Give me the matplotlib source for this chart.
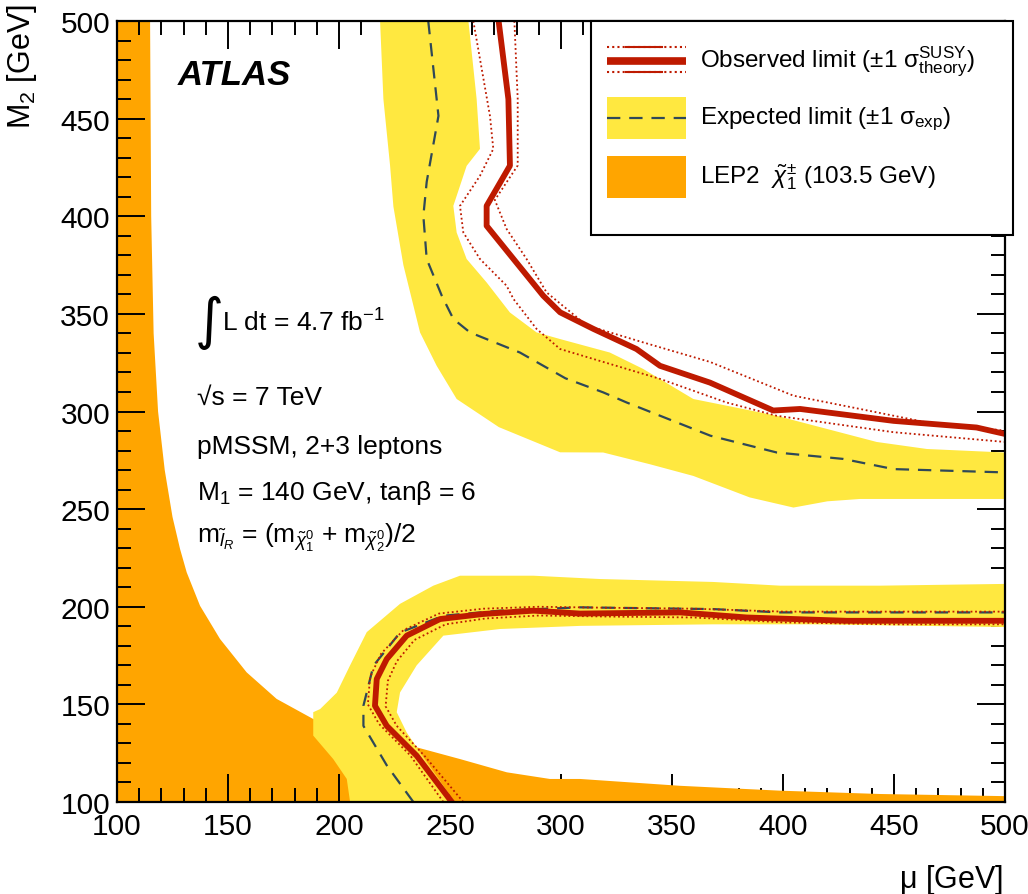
import numpy as np
import matplotlib
matplotlib.use("Agg")
import matplotlib.pyplot as plt
from matplotlib.patches import Rectangle
from matplotlib.ticker import MultipleLocator

plt.rcParams['font.family'] = ['Liberation Sans', 'DejaVu Sans']
plt.rcParams['mathtext.fontset'] = 'custom'
plt.rcParams['mathtext.rm'] = 'Liberation Sans'
plt.rcParams['mathtext.it'] = 'Liberation Sans:italic'
plt.rcParams['mathtext.bf'] = 'Liberation Sans:bold'
plt.rcParams['mathtext.sf'] = 'Liberation Sans'

# LEP2 chargino exclusion (left part and the strip along the bottom)
lep_left_mu = [100, 114.9, 115.4, 116.5, 118.5, 121.5, 125, 128.4, 131.4, 137.4, 146.4, 158.4, 171.9, 188.4, 215, 235, 252, 100]
lep_left_m2 = [500, 500, 400, 340, 300, 270, 246, 229.6, 217.6, 200.5, 183.5, 166.4, 152.8, 142.5, 132, 128, 100, 100]
lep_right_mu = [235, 254.5, 275.6, 295, 308.6, 353.6, 398.7, 443.7, 500, 500, 252]
lep_right_m2 = [128, 122, 115.2, 111.8, 111.8, 108.3, 105.8, 104.1, 103, 100, 100]

# expected limit +-1 sigma band, upper branch (outer edge then inner edge)
band_up_outer_mu = [218.5, 220, 223, 224.5, 229, 236.5, 244, 253, 272, 299.6, 319, 340, 359.6, 385, 404.7, 420, 434.7, 464.8, 500]
band_up_outer_m2 = [500, 460, 426, 405, 375, 340.5, 323.4, 306.4, 292, 279.1, 279, 273, 267, 256, 250.8, 254, 255.2, 255.2, 255.2]
band_up_inner_mu = [258.3, 262, 263.5, 257.5, 251.5, 253, 257.5, 266.5, 277, 289, 299.6, 322, 337, 359.6, 397.2, 442.2, 464.8, 500]
band_up_inner_m2 = [500, 460, 434.5, 425.8, 405.3, 391.7, 378.1, 366.1, 350.7, 340.5, 337.1, 330.2, 321.8, 306.4, 297.8, 284.4, 280.8, 279]

# expected band, lower branch
band_lo_outer_mu = [500, 443.7, 398.7, 368.5, 317.6, 287.6, 254.5, 242.5, 227.5, 212.5, 205, 199, 191.5, 188.4, 188.4, 197.4, 203.5, 205]
band_lo_outer_m2 = [211.7, 210.8, 210.8, 212.7, 214.2, 215.9, 215.9, 210.8, 201.5, 187, 170, 156, 147.6, 146, 134, 122, 111.8, 100]
band_lo_inner_mu = [252, 235, 230.5, 226, 227.5, 235, 247, 272.5, 308.6, 368.5, 413.5, 500]
band_lo_inner_m2 = [100, 128, 135.6, 146, 156.1, 170, 185.2, 188.6, 190.2, 191, 191, 189.6]

# expected limit (dashed)
exp_up_mu = [240.2, 244.8, 239.5, 238, 239.5, 246.3, 251.5, 259, 281.5, 302, 319, 329.6, 367.3, 397.2, 427.2, 449.8, 500]
exp_up_m2 = [500, 451.4, 417.6, 400.2, 378.1, 359.3, 347.4, 340.5, 330.2, 317, 309.8, 304.6, 287.6, 279, 275.7, 270.5, 268.8]
exp_lo_mu = [233.5, 221.5, 211, 211, 215.5, 227.5, 247, 272.5, 308.6, 368.6, 398.7, 500]
exp_lo_m2 = [100, 118.8, 139, 149.3, 169.8, 186.8, 195.4, 198, 199.7, 198.8, 197.1, 197.1]

# observed limit (thick red)
obs_up_mu = [271.9, 276.3, 277, 266.5, 266.5, 278.6, 292, 299.6, 314.6, 334, 344.6, 367.1, 395.6, 407.7, 449.8, 487.2, 500]
obs_up_m2 = [500, 460, 425.9, 405.3, 395.1, 378.1, 359.3, 350.8, 342.3, 332, 323.4, 314.8, 300.5, 301.3, 295.2, 291.8, 288.5]
obs_lo_mu = [250.8, 235, 221.5, 216.2, 217, 221.5, 230.5, 245.5, 265, 287.6, 308.6, 353.6, 383.7, 428.7, 500]
obs_lo_m2 = [100, 123.7, 139, 149.3, 163, 173.2, 185.2, 193.7, 196.3, 198, 196.5, 197.1, 194.5, 192.8, 192.8]

# observed +-1 sigma theory (dotted)
obs_dn_up_mu = [260.5, 268, 269.5, 263.5, 254.5, 256, 263.5, 275.5, 278.6, 289, 299.6, 319, 344.6, 374.6, 397.2, 449.8, 500]
obs_dn_up_m2 = [500, 451.4, 434.5, 420.7, 405.3, 391.7, 378.1, 364.4, 357.6, 342.3, 332, 325.4, 316.7, 304.6, 297.8, 289.4, 284.4]
obs_pl_up_mu = [279, 280.5, 280.5, 270.2, 275.5, 284.5, 293.5, 311.6, 337, 367.1, 404.7, 434.7, 464.8, 500]
obs_pl_up_m2 = [500, 460, 426, 408.3, 393.5, 378.1, 361, 344.1, 335.4, 325.4, 308.1, 301.3, 294.4, 290.2]
obs_dn_lo_mu = [247, 232, 218, 213, 214, 219, 229, 245, 265, 290, 320, 360, 400, 500]
obs_dn_lo_m2 = [100, 124, 140, 150, 164, 176, 188, 196.5, 199, 200, 199.5, 199, 197.5, 197.5]
obs_pl_lo_mu = [256, 239, 226, 221, 222, 226, 234, 248, 266, 290, 320, 360, 400, 450, 500]
obs_pl_lo_m2 = [100, 123, 139, 149, 162, 172, 183, 191, 194, 195.5, 195, 194.5, 192, 191, 191]

ORANGE = '#FFA500'
YELLOW = '#FFE840'
RED = '#BE1A00'
DASH = '#2F4858'

fig = plt.figure(figsize=(10.28, 8.95), dpi=100)
ax = fig.add_axes([117 / 1028, 1 - 803 / 895, 888 / 1028, 781 / 895])

ax.fill(lep_left_mu, lep_left_m2, color=ORANGE, lw=0, zorder=1)
ax.fill(band_up_outer_mu + band_up_inner_mu[::-1], band_up_outer_m2 + band_up_inner_m2[::-1],
        color=YELLOW, lw=0, zorder=2)
ax.fill(band_lo_outer_mu + band_lo_inner_mu, band_lo_outer_m2 + band_lo_inner_m2,
        color=YELLOW, lw=0, zorder=2)
ax.fill(lep_right_mu, lep_right_m2, color=ORANGE, lw=0, zorder=2)

for xs, ys in [(exp_up_mu, exp_up_m2), (exp_lo_mu, exp_lo_m2)]:
    ax.plot(xs, ys, color=DASH, lw=1.6, dashes=(6, 4), zorder=3)
for xs, ys in [(obs_dn_up_mu, obs_dn_up_m2), (obs_pl_up_mu, obs_pl_up_m2),
               (obs_dn_lo_mu, obs_dn_lo_m2), (obs_pl_lo_mu, obs_pl_lo_m2)]:
    ax.plot(xs, ys, color=RED, lw=1.3, ls=(0, (1, 1.5)), zorder=4)
for xs, ys in [(obs_up_mu, obs_up_m2), (obs_lo_mu, obs_lo_m2)]:
    ax.plot(xs, ys, color=RED, lw=4.2, zorder=5, solid_joinstyle='round')

ax.set_xlim(100, 500)
ax.set_ylim(100, 500)
ax.xaxis.set_major_locator(MultipleLocator(50))
ax.xaxis.set_minor_locator(MultipleLocator(10))
ax.yaxis.set_major_locator(MultipleLocator(50))
ax.yaxis.set_minor_locator(MultipleLocator(10))
ax.tick_params(which='both', direction='in', top=True, right=True, width=1.4, labelsize=21.5, zorder=10)
ax.tick_params(which='major', length=20)
ax.tick_params(which='minor', length=10)
ax.tick_params(axis='x', pad=7)
ax.tick_params(axis='y', pad=5)
for sp in ax.spines.values():
    sp.set_linewidth(1.6)
    sp.set_zorder(10)

fig.text(22 / 1028, 1 - 4 / 895, 'M$_{2}$ [GeV]', rotation=90, ha='center', va='top', fontsize=22)
fig.text(1003 / 1028, 1 - 880 / 895, '$\\mathrm{\\mu}$ [GeV]', ha='right', va='center', fontsize=22)

# ATLAS label and run info
ax.text(0.0687, 0.932, 'ATLAS', transform=ax.transAxes, fontsize=25, fontweight='bold',
        fontstyle='italic', va='center', ha='left')
ax.text(0.088, 0.6146, '\u222b', transform=ax.transAxes, fontsize=40, va='center', ha='left',
        family=['DejaVu Sans'])
ax.text(0.118, 0.6146, 'L dt = 4.7 fb$^{-1}$', transform=ax.transAxes, fontsize=19, va='center')
ax.text(0.090, 0.5186, '\u221as = 7 TeV', transform=ax.transAxes, fontsize=19, va='center')
ax.text(0.090, 0.4558, 'pMSSM, 2+3 leptons', transform=ax.transAxes, fontsize=19, va='center')
ax.text(0.090, 0.3969, 'M$_{1}$ = 140 GeV, tan$\\mathrm{\\beta}$ = 6', transform=ax.transAxes, fontsize=19, va='center')
ax.text(0.090, 0.3393, 'm$_{\\tilde{l}_{R}}$ = (m$_{\\tilde{\\chi}^{0}_{1}}$ + m$_{\\tilde{\\chi}^{0}_{2}}$)/2',
        transform=ax.transAxes, fontsize=19, va='center')

# legend box
ax.add_patch(Rectangle((0.534, 0.726), 0.475, 0.274, transform=ax.transAxes, facecolor='white',
                       edgecolor='black', lw=1.5, clip_on=False, zorder=20))
x0, x1 = 0.5515, 0.6408
ax.plot([x0, x1], [0.949, 0.949], transform=ax.transAxes, color=RED, lw=5.5, clip_on=False, zorder=21,
        solid_capstyle='butt')
for yy in [0.9667, 0.9348]:
    ax.plot([x0, x1], [yy, yy], transform=ax.transAxes, color=RED, lw=1.5, ls=(0, (1, 1.5)),
            clip_on=False, zorder=21)
    ax.plot([0.5728, 0.6134], [yy, yy], transform=ax.transAxes, color=RED, lw=1.5,
            clip_on=False, zorder=21)
ax.add_patch(Rectangle((x0, 0.849), x1 - x0, 0.0533, transform=ax.transAxes, facecolor=YELLOW,
                       lw=0, clip_on=False, zorder=21))
ax.plot([x0, x1], [0.8758, 0.8758], transform=ax.transAxes, color=DASH, lw=1.6, dashes=(6, 4),
        clip_on=False, zorder=22)
ax.add_patch(Rectangle((x0, 0.7734), x1 - x0, 0.0541, transform=ax.transAxes, facecolor=ORANGE,
                       lw=0, clip_on=False, zorder=21))

leg_fs = 17.5
ax.text(0.6565, 0.949, 'Observed limit (\u00b11 $\\mathrm{\\sigma}^{\\mathrm{SUSY}}_{\\mathrm{theory}}$)',
        transform=ax.transAxes, fontsize=leg_fs, va='center', zorder=22)
ax.text(0.6565, 0.8758, 'Expected limit (\u00b11 $\\mathrm{\\sigma}_{\\mathrm{exp}}$)',
        transform=ax.transAxes, fontsize=leg_fs, va='center', zorder=22)
ax.text(0.6565, 0.8015, 'LEP2  $\\tilde{\\chi}^{\\pm}_{1}$ (103.5 GeV)',
        transform=ax.transAxes, fontsize=leg_fs, va='center', zorder=22)

fig.savefig('out.png', dpi=100)
